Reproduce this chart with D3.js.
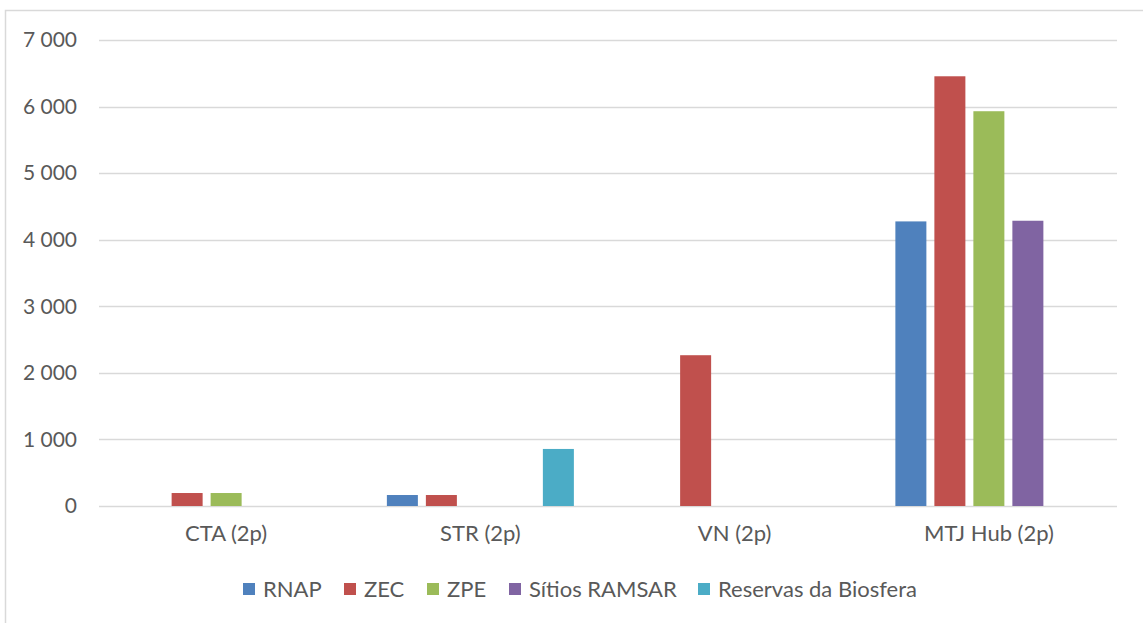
<!DOCTYPE html>
<html>
<head>
<meta charset="utf-8">
<script src="https://cdn.jsdelivr.net/npm/d3@7"></script>
<style>
  body { margin: 0; background: #fff; }
  text { font-family: Lato, "Open Sans", sans-serif; fill: #595959; }
</style>
</head>
<body>
<svg id="chart" width="1143" height="623"></svg>
<script>
const categories = ["CTA (2p)", "STR (2p)", "VN (2p)", "MTJ Hub (2p)"];
const seriesNames = ["RNAP", "ZEC", "ZPE", "Sítios RAMSAR", "Reservas da Biosfera"];
const colors = ["#4f81bd", "#c0504d", "#9bbb59", "#8064a2", "#4bacc6"];

// values per series, in category order
const rnap = [0, 165, 0, 4275];
const zec = [195, 165, 2265, 6455];
const zpe = [195, 0, 0, 5930];
const ramsar = [0, 0, 0, 4285];
const reservas = [0, 857, 0, 0];
const seriesValues = [rnap, zec, zpe, ramsar, reservas];

const yTicks = [0, 1000, 2000, 3000, 4000, 5000, 6000, 7000];

const svg = d3.select("#chart");

// outer chart border
svg.append("rect")
  .attr("x", 5.5).attr("y", 10.5)
  .attr("width", 1150).attr("height", 640)
  .attr("fill", "none")
  .attr("stroke", "#d9d9d9")
  .attr("stroke-width", 1.5);

const plotLeft = 99, plotRight = 1116, plotTop = 40, plotBottom = 506;

const x0 = d3.scaleBand().domain(categories).range([plotLeft, plotRight]);
const x1 = d3.scaleBand()
  .domain(seriesNames)
  .range([(x0.bandwidth() - 187) / 2, (x0.bandwidth() + 187) / 2])
  .paddingInner(0.205);
const y = d3.scaleLinear().domain([0, 7000]).range([plotBottom, plotTop]);

const fmt = v => d3.format(",")(v).replace(/,/g, " ");

// gridlines
svg.append("g")
  .selectAll("line")
  .data(yTicks)
  .join("line")
  .attr("x1", plotLeft).attr("x2", plotRight + 1)
  .attr("y1", d => Math.round(y(d)) + 0.5)
  .attr("y2", d => Math.round(y(d)) + 0.5)
  .attr("stroke", "#d9d9d9")
  .attr("stroke-width", 1.5);

// y labels
svg.append("g")
  .selectAll("text")
  .data(yTicks)
  .join("text")
  .attr("x", 77)
  .attr("y", d => y(d))
  .attr("dy", "0.35em")
  .attr("text-anchor", "end")
  .attr("font-size", 21)
  .text(fmt);

// bars
const groups = svg.append("g")
  .selectAll("g")
  .data(categories)
  .join("g")
  .attr("transform", d => "translate(" + x0(d) + ",0)");

groups.selectAll("rect")
  .data((c, i) => seriesNames.map((s, j) => ({ s, j, v: seriesValues[j][i] })).filter(d => d.v > 0))
  .join("rect")
  .attr("x", d => x1(d.s))
  .attr("width", x1.bandwidth())
  .attr("y", d => y(d.v))
  .attr("height", d => y(0) - y(d.v))
  .attr("fill", d => colors[d.j]);

// category labels
svg.append("g")
  .selectAll("text")
  .data(categories)
  .join("text")
  .attr("x", d => x0(d) + x0.bandwidth() / 2)
  .attr("y", 541)
  .attr("text-anchor", "middle")
  .attr("font-size", 22)
  .text(d => d);

// legend
const legendX = [243, 344, 427, 509, 698];
const legend = svg.append("g")
  .selectAll("g")
  .data(seriesNames)
  .join("g")
  .attr("transform", (d, i) => "translate(" + legendX[i] + ",583)");

legend.append("rect")
  .attr("width", 12).attr("height", 12)
  .attr("fill", (d, i) => colors[i]);

legend.append("text")
  .attr("x", 20)
  .attr("y", 14)
  .attr("font-size", 22)
  .text(d => d);
</script>
</body>
</html>
